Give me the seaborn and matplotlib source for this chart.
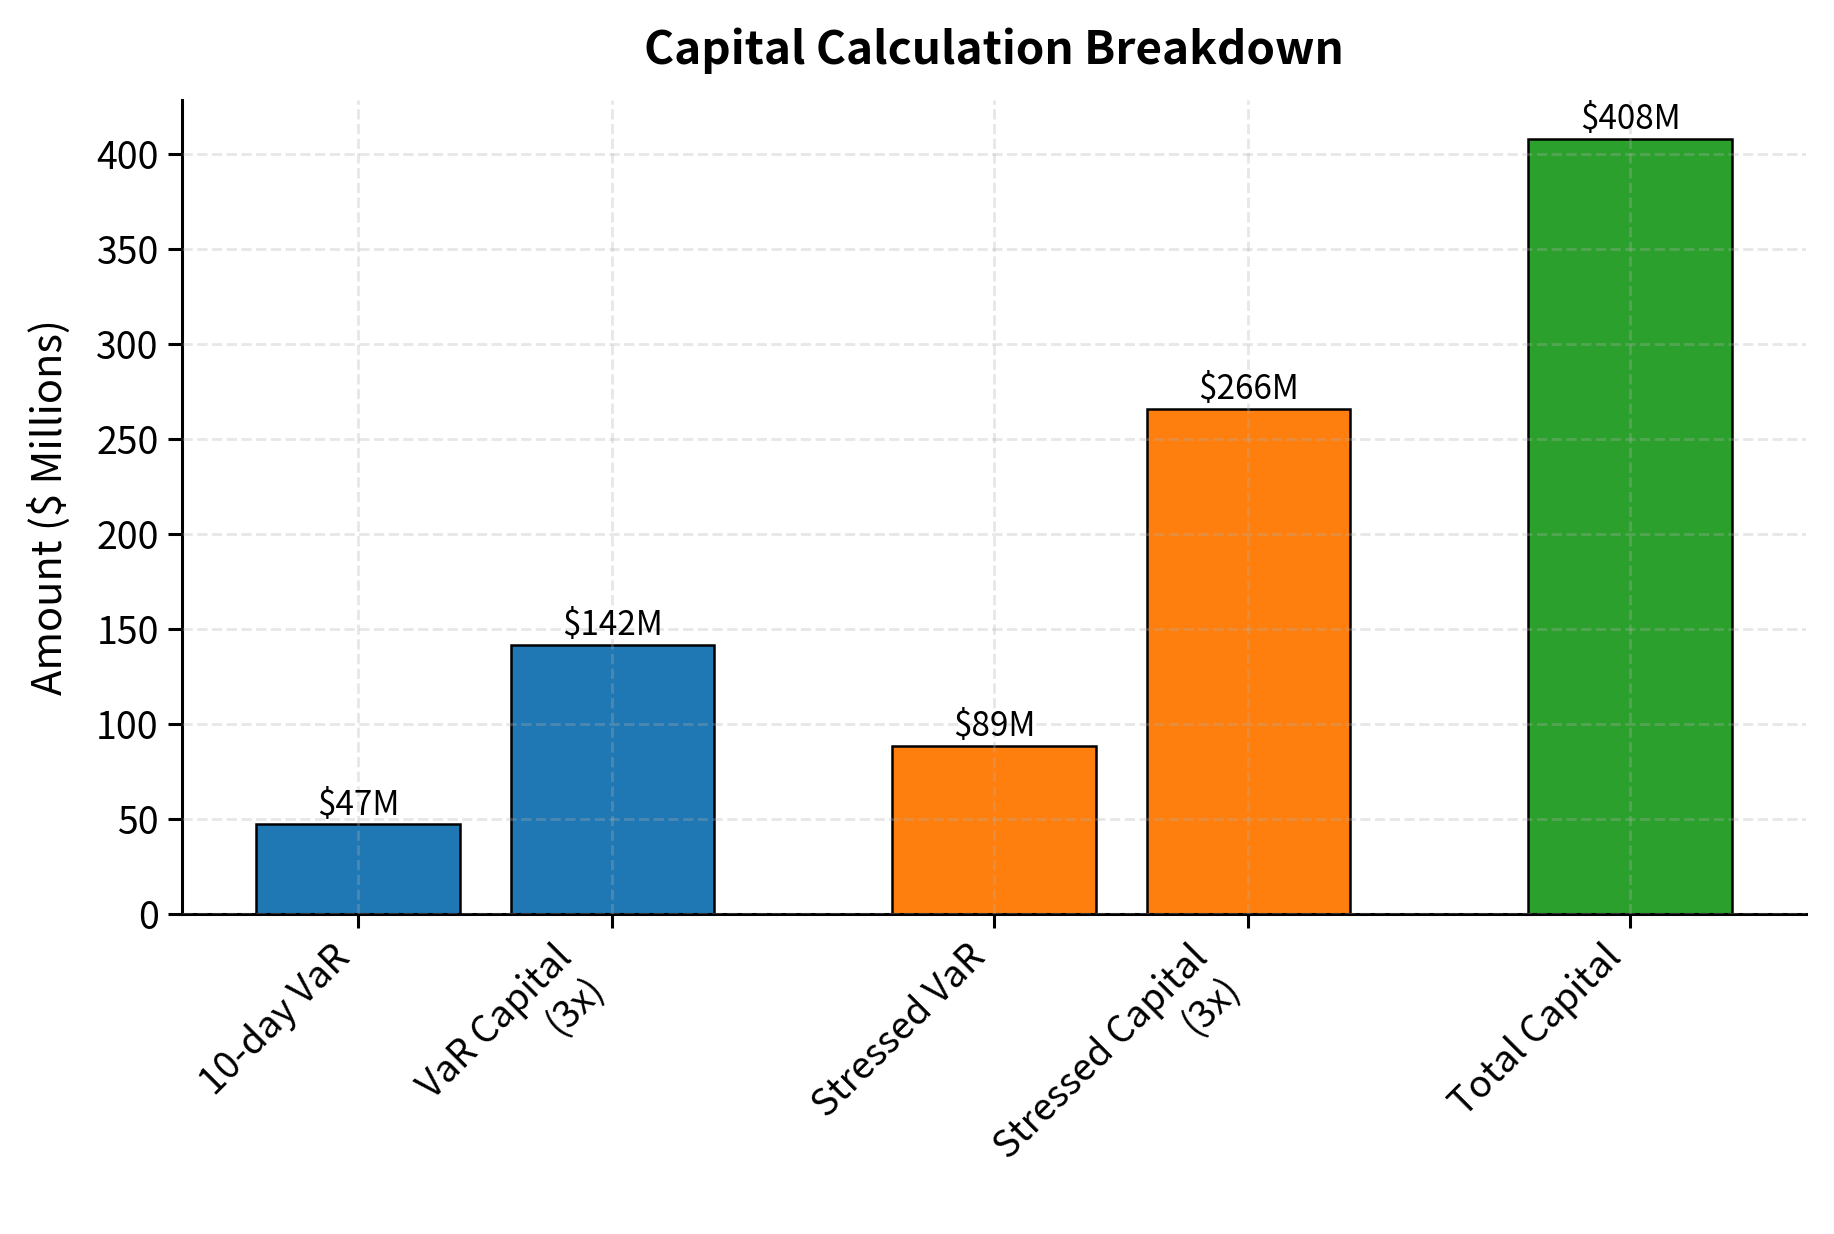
import numpy as np
import pandas as pd
import seaborn as sns
import matplotlib.pyplot as plt

# data
categories = ["10-day VaR", "VaR Capital\n(3x)", "Stressed VaR", "Stressed Capital\n(3x)", "Total Capital"]
positions = [0, 1, 2.5, 3.5, 5]
amounts = [47.3, 141.9, 88.7, 266.1, 408.0]
colors = ["#1f77b4", "#1f77b4", "#ff7f0e", "#ff7f0e", "#2ca02c"]

plt.rcParams["font.family"] = ["Noto Sans CJK SC", "DejaVu Sans"]

df = pd.DataFrame({"pos": positions, "amount": amounts, "label": categories})

fig, ax = plt.subplots(figsize=(9.17, 6.17), dpi=200)
fig.subplots_adjust(left=0.0995, right=0.9845, top=0.919, bottom=0.259)

sns.barplot(
    data=df,
    x="pos",
    y="amount",
    hue="label",
    palette=colors,
    saturation=1,
    native_scale=True,
    dodge=False,
    width=0.8,
    edgecolor="black",
    linewidth=0.9,
    legend=False,
    ax=ax,
)

for x, h in zip(positions, amounts):
    ax.text(x, h + 1, f"${h:.0f}M", ha="center", va="bottom", fontsize=12)

ax.set_xticks(positions)
ax.set_xticklabels(categories, rotation=45, ha="right", fontsize=13.5)
ax.tick_params(axis="y", labelsize=13.5)
ax.tick_params(axis="both", length=5, width=1.1)
ax.set_xlim(-0.69, 5.69)
ax.set_ylim(0, max(amounts) * 1.05)
ax.set_xlabel("")
ax.set_ylabel("Amount ($ Millions)", fontsize=15, labelpad=9)
ax.set_title("Capital Calculation Breakdown", fontsize=16.5, fontweight="bold", pad=13)

ax.set_axisbelow(False)
ax.grid(True, linestyle="--", linewidth=1.0, alpha=0.3)
for side in ["left", "bottom"]:
    ax.spines[side].set_linewidth(1.1)
sns.despine(ax=ax)

fig.savefig("out.png", dpi=200)
plt.close()
